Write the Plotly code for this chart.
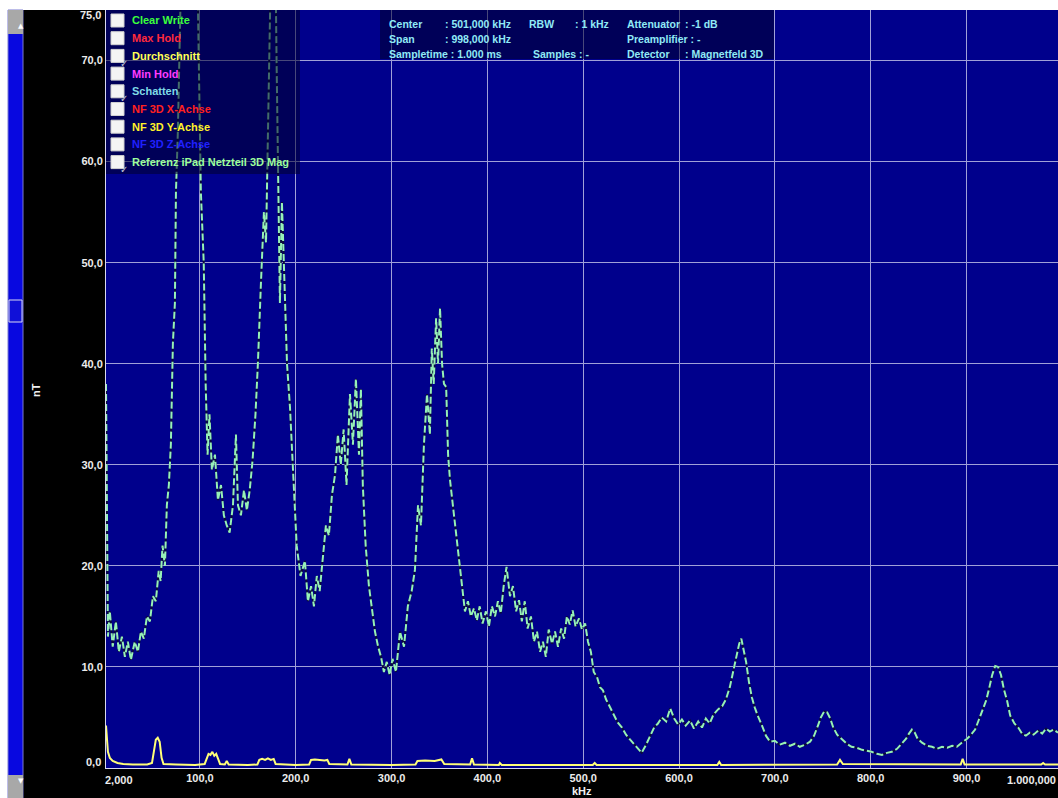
import plotly.graph_objects as go

# ---- measured trace: Referenz iPad Netzteil 3D Mag (kHz / nT) ----
ref_khz = [
    2, 3, 4, 6, 9, 12.3, 15.4, 18.6, 21.7, 24.8,
    28, 32, 35.3, 38.4, 41.5, 44.7, 47.8, 51, 54, 57,
    59, 61, 63.5, 65.5, 67.6, 69.7, 71.8, 73.9, 75, 77,
    80, 84, 89.6, 94.8, 98, 101, 104, 106, 108, 110,
    112.5, 115.7, 118.8, 122, 125, 128, 131, 134.5, 137.6, 139.7,
    142.8, 146, 149, 152, 155, 158, 160.5, 163.7, 166.8, 169,
    171, 174, 177, 180, 183.5, 185.6, 187.7, 190.9, 194, 197,
    201, 205, 209.6, 212.7, 216, 219, 222, 225, 228.5, 231.5,
    234.6, 237.8, 241, 244, 247, 250, 253, 256.6, 259.7, 262.8,
    266, 268, 270, 273, 276.4, 279.5, 282.7, 286, 289, 292,
    295, 298, 301, 304.6, 308.8, 313, 317, 321, 324.4, 327.6,
    330.7, 333.8, 337, 340, 342, 344, 346.5, 348.5, 350.6, 352.7,
    354.7, 357, 359, 361, 364, 367, 370, 373.5, 376.6, 379.7,
    382.8, 386, 389, 392, 395, 398.5, 401.6, 404.7, 408, 411,
    414, 417, 420, 423.6, 426.7, 430, 433, 436, 439, 442,
    445.5, 448.6, 451.8, 455, 458, 461, 464, 467.5, 470.6, 473.7,
    477, 480, 483, 486, 489, 492, 495.6, 498.7, 502, 505,
    508, 511, 514.4, 517.5, 520.6, 523.8, 528, 532, 536, 540.5,
    544.7, 549, 553, 557, 561, 565.6, 569.7, 574, 578, 582,
    586.6, 590.8, 595, 599, 603, 607, 611.5, 615.6, 620, 624,
    628, 632, 636, 640.7, 645, 649, 653, 656.6, 659.7, 662.8,
    665, 667, 670, 673, 676, 679, 682, 686.6, 690.7, 695,
    700, 705, 710.6, 715.8, 721, 726, 731.5, 736.7, 741, 745,
    748, 751.5, 754.6, 757.8, 761, 765, 770, 775, 780, 785.6,
    791, 796, 801, 806.6, 811.8, 817, 822, 827.5, 832.7, 837,
    840, 843, 846, 849, 853.6, 859, 864, 869, 874.5, 880,
    885, 890, 895, 900.6, 904.8, 909, 913, 917, 920.6, 923.7,
    926.8, 930, 933, 936, 939, 942.5, 945.6, 950, 954, 958,
    962, 966, 970, 974.8, 979, 983, 987, 991, 995.5,
]
ref_nt = [
    38, 20, 13, 15.5, 12, 14.5, 11.5, 13, 11, 12.5,
    10.7, 12.5, 11.5, 13.5, 12.8, 15, 14.5, 17, 16.5, 19.5,
    18.5, 22, 20, 26, 28, 32, 42, 46, 57, 63,
    85, 95, 110, 90, 75, 57, 50, 38, 31, 35,
    29.5, 31, 26.5, 28, 25, 24, 23.3, 26, 33, 26,
    25, 27.5, 25.5, 27.5, 30.5, 35, 40, 48, 55, 52,
    65, 80, 95, 70, 46, 56, 50, 40, 35.7, 30,
    22, 19, 20.5, 16.5, 18, 16, 19, 17.5, 21, 24,
    23, 27, 29, 33, 30, 33.5, 28, 37, 32, 38.5,
    31, 37.5, 28, 22, 18, 16, 13.5, 12, 11, 9.5,
    10.5, 9.2, 10.8, 9.5, 13.5, 12, 16, 17.5, 19.6, 26,
    24, 32, 37, 33, 41.5, 38, 44.5, 40, 45.5, 40,
    38, 37.7, 31, 28.5, 26, 24, 21.3, 18.6, 15.5, 16.5,
    15, 15.8, 14.6, 16, 14.3, 15.5, 14, 16, 15, 16.5,
    15.3, 18, 19.9, 17, 18, 15.5, 16.6, 14.5, 16.5, 13.8,
    15, 12.5, 13.5, 11.5, 12.5, 11, 13.7, 12.3, 13.5, 12,
    13.8, 12.8, 15, 14.2, 15.6, 14, 14.8, 13.7, 14.3, 12.5,
    11.5, 9.5, 9, 8, 7.7, 6.8, 6, 5.2, 4.5, 4,
    3.3, 2.8, 2.4, 1.9, 1.5, 2.3, 3.2, 4, 4.4, 5,
    4.6, 5.9, 4.9, 4.3, 4.8, 4.2, 4.7, 3.9, 4.6, 4,
    4.9, 4.4, 5.3, 5.8, 6.1, 6.8, 8, 9.5, 11, 12.3,
    12.8, 11.8, 10.5, 8.5, 7, 6, 5.2, 4.2, 3.2, 2.6,
    2.7, 2.3, 2.5, 2.2, 2.4, 2.1, 2.3, 2.6, 3.2, 4.2,
    5, 5.6, 5.5, 4.9, 4, 3.3, 2.8, 2.4, 2.1, 2,
    1.8, 1.7, 1.6, 1.4, 1.3, 1.5, 1.6, 1.9, 2.4, 2.9,
    3.4, 3.8, 3.5, 2.9, 2.5, 2.2, 2.1, 1.9, 2.1, 2,
    2.2, 2.1, 2.5, 2.9, 3.3, 3.8, 4.8, 5.7, 6.7, 7.9,
    9.2, 10.1, 10, 9.2, 7.8, 6.6, 5.2, 4.4, 4, 3.4,
    3.2, 3.5, 3.3, 3.7, 3.4, 3.9, 3.6, 3.8, 3.5,
]

# ---- Durchschnitt trace (kHz / nT) ----
avg_khz = [
    2, 3, 4, 6, 9, 14, 20, 30, 45, 50,
    52, 54, 56, 58, 60, 62, 75, 95, 105, 107,
    109, 111, 113, 115, 117, 119, 121, 126, 128, 130,
    150, 160, 162, 165, 168, 171, 174, 177, 179, 200,
    214, 216, 220, 225, 230, 233, 235, 254, 256, 258,
    300, 325, 327, 335, 345, 352, 355, 382, 384, 386,
    412, 413, 415, 510, 512, 514, 640, 642, 644, 765,
    768, 771, 894, 896, 898, 978, 980, 982, 995.5,
]
avg_nt = [
    4.2, 2.5, 1.6, 1.0, 0.7, 0.5, 0.4, 0.35, 0.35, 0.5,
    1.5, 2.8, 3.0, 2.6, 1.0, 0.4, 0.35, 0.3, 0.4, 0.9,
    1.4, 1.3, 1.6, 1.2, 1.4, 0.9, 0.4, 0.35, 0.7, 0.35,
    0.3, 0.35, 0.8, 0.9, 0.8, 0.95, 0.8, 0.9, 0.4, 0.3,
    0.35, 0.8, 0.85, 0.8, 0.75, 0.8, 0.4, 0.35, 0.9, 0.35,
    0.3, 0.35, 0.7, 0.75, 0.7, 0.85, 0.4, 0.35, 0.95, 0.35,
    0.3, 0.5, 0.3, 0.3, 0.5, 0.3, 0.3, 0.6, 0.3, 0.35,
    0.8, 0.4, 0.35, 0.9, 0.35, 0.35, 0.5, 0.35, 0.35,
]

# ---- axes ----
x_tick_vals = [100, 200, 300, 400, 500, 600, 700, 800, 900]
x_tick_text = ["100,0", "200,0", "300,0", "400,0", "500,0", "600,0", "700,0", "800,0", "900,0"]
y_tick_vals = [10, 20, 30, 40, 50, 60, 70]
y_tick_text = ["10,0", "20,0", "30,0", "40,0", "50,0", "60,0", "70,0"]

# ---- trace selector panel ----
legend_labels = ["Clear Write", "Max Hold", "Durchschnitt", "Min Hold", "Schatten",
                 "NF 3D X-Achse", "NF 3D Y-Achse", "NF 3D Z-Achse",
                 "Referenz iPad Netzteil 3D Mag"]
legend_colors = ["#3cff3c", "#ff2a3c", "#ffff55", "#ff3cff", "#7fdbe6",
                 "#ff2020", "#fff02a", "#2020ff", "#9cff9c"]
legend_checked = [False, False, True, False, True, False, False, False, True]

# ---- measurement settings box ----
info_items = [
    ("Center", 387, 0), (": 501,000 kHz", 443, 0), ("RBW", 527, 0), (": 1 kHz", 573, 0),
    ("Attenuator", 625, 0), (": -1 dB", 683, 0),
    ("Span", 387, 1), (": 998,000 kHz", 443, 1), ("Preamplifier : -", 625, 1),
    ("Sampletime : 1.000 ms", 387, 2), ("Samples : -", 531, 2),
    ("Detector", 625, 2), (": Magnetfeld 3D", 683, 2),
]

W, H = 1058, 798
L, R, T, B = 106, 0, 10, 30
PW, PH = W - L - R, H - T - B


def px(x):
    return (x - L) / PW


def py(y):
    return (H - B - y) / PH


FONT = "Liberation Sans"

fig = go.Figure()
# dark under-stroke so the dash gaps read as dark breaks
fig.add_trace(go.Scatter(
    x=ref_khz, y=ref_nt, mode="lines",
    line=dict(color="#0c0c3c", width=2),
    hoverinfo="skip",
))
fig.add_trace(go.Scatter(
    x=ref_khz, y=ref_nt, mode="lines",
    line=dict(color="#96f0b8", width=2, dash="7px,3px"),
    name="Referenz iPad Netzteil 3D Mag",
))
fig.add_trace(go.Scatter(
    x=avg_khz, y=avg_nt, mode="lines",
    line=dict(color="#ffff78", width=2),
    name="Durchschnitt",
))

shapes = []
annotations = []

# window chrome: white top strip, left strip, scrollbar
shapes.append(dict(type="rect", xref="paper", yref="paper", x0=px(0), x1=px(W), y0=py(0), y1=py(T),
                   fillcolor="white", line=dict(width=0), layer="above"))
shapes.append(dict(type="rect", xref="paper", yref="paper", x0=px(0), x1=px(8), y0=py(0), y1=py(H),
                   fillcolor="white", line=dict(width=0), layer="above"))
shapes.append(dict(type="rect", xref="paper", yref="paper", x0=px(8), x1=px(23), y0=py(T), y1=py(H),
                   fillcolor="#0808e0", line=dict(color="#7a7ad0", width=1), layer="above"))
shapes.append(dict(type="rect", xref="paper", yref="paper", x0=px(8), x1=px(23), y0=py(T), y1=py(34),
                   fillcolor="#a8a8a8", line=dict(width=0), layer="above"))
shapes.append(dict(type="rect", xref="paper", yref="paper", x0=px(8), x1=px(23), y0=py(775), y1=py(H),
                   fillcolor="#a8a8a8", line=dict(width=0), layer="above"))
shapes.append(dict(type="rect", xref="paper", yref="paper", x0=px(9), x1=px(22), y0=py(300), y1=py(322),
                   fillcolor="#1010d8", line=dict(color="#d8d8f0", width=1), layer="above"))
annotations.append(dict(xref="paper", yref="paper", x=px(15.5), y=py(20), text="▲", showarrow=False,
                        font=dict(family="DejaVu Sans", size=7, color="white")))
annotations.append(dict(xref="paper", yref="paper", x=px(15.5), y=py(787), text="▼", showarrow=False,
                        font=dict(family="DejaVu Sans", size=7, color="white")))

# selector panel background and entries
shapes.append(dict(type="rect", xref="paper", yref="paper", x0=px(L), x1=px(300), y0=py(T), y1=py(174),
                   fillcolor="rgba(0,0,45,0.55)", line=dict(width=0), layer="above"))
for i, (lab, col, chk) in enumerate(zip(legend_labels, legend_colors, legend_checked)):
    yc = 20.5 + i * 17.7
    shapes.append(dict(type="rect", xref="paper", yref="paper", x0=px(111), x1=px(124),
                       y0=py(yc + 6.5), y1=py(yc - 6.5),
                       fillcolor="#f4f4f4", line=dict(color="#d0d0d0", width=1), layer="above"))
    if chk:
        annotations.append(dict(xref="paper", yref="paper", x=px(117.5), y=py(yc), text="✓",
                                showarrow=False, font=dict(family="DejaVu Sans", size=10, color="#c8c8d8")))
    annotations.append(dict(xref="paper", yref="paper", x=px(130), y=py(yc), text="<b>" + lab + "</b>",
                            xanchor="left", yanchor="middle", showarrow=False,
                            font=dict(family=FONT, size=11, color=col)))

# settings box
shapes.append(dict(type="rect", xref="paper", yref="paper", x0=px(380), x1=px(774), y0=py(T), y1=py(59),
                   fillcolor="rgba(0,0,45,0.55)", line=dict(width=0), layer="above"))
for txt, xp, row in info_items:
    annotations.append(dict(xref="paper", yref="paper", x=px(xp), y=py(24 + row * 15), text="<b>" + txt + "</b>",
                            xanchor="left", yanchor="middle", showarrow=False,
                            font=dict(family=FONT, size=10.5, color="#90eaf6")))

# edge tick labels and axis titles
lab_font = dict(family=FONT, size=11, color="#ececec")
annotations.append(dict(xref="paper", yref="y", x=px(103), y=0, yshift=6, text="<b>0,0</b>",
                        xanchor="right", yanchor="middle", showarrow=False, font=lab_font))
annotations.append(dict(xref="paper", yref="y", x=px(103), y=75, yshift=-5, text="<b>75,0</b>",
                        xanchor="right", yanchor="middle", showarrow=False, font=lab_font))
annotations.append(dict(xref="x", yref="paper", x=2, xshift=-3, y=py(780), text="<b>2,000</b>",
                        xanchor="left", yanchor="middle", showarrow=False, font=lab_font))
annotations.append(dict(xref="paper", yref="paper", x=1, y=py(780), text="<b>1.000,000</b>",
                        xanchor="right", yanchor="middle", showarrow=False, font=lab_font))
annotations.append(dict(xref="paper", yref="paper", x=0.5, y=py(791), text="<b>kHz</b>",
                        xanchor="center", yanchor="middle", showarrow=False,
                        font=dict(family=FONT, size=11, color="#f0f0f0")))
annotations.append(dict(xref="paper", yref="paper", x=px(36), y=py(390), text="<b>nT</b>",
                        textangle=-90, xanchor="center", yanchor="middle", showarrow=False,
                        font=dict(family=FONT, size=11, color="#f0f0f0")))

fig.update_layout(
    width=W, height=H,
    margin=dict(l=L, r=R, t=T, b=B, pad=0),
    paper_bgcolor="black",
    plot_bgcolor="#00008c",
    showlegend=False,
    font=dict(family=FONT, size=11, color="#e6e6e6"),
    shapes=shapes,
    annotations=annotations,
    xaxis=dict(
        range=[2, 995.5], tickvals=x_tick_vals, ticktext=["<b>" + t + "</b>" for t in x_tick_text],
        showgrid=True, gridcolor="#a0a0d8", gridwidth=1,
        showline=True, linecolor="#d8d8ee", linewidth=1, mirror=False,
        zeroline=False, ticks="", tickfont=lab_font, automargin=False,
    ),
    yaxis=dict(
        range=[0, 75], tickvals=y_tick_vals, ticktext=["<b>" + t + "</b>" for t in y_tick_text],
        showgrid=True, gridcolor="#a0a0d8", gridwidth=1,
        showline=True, linecolor="#d8d8ee", linewidth=1,
        zeroline=False, ticks="", tickfont=lab_font, automargin=False,
    ),
)

fig.write_html("out.html")
